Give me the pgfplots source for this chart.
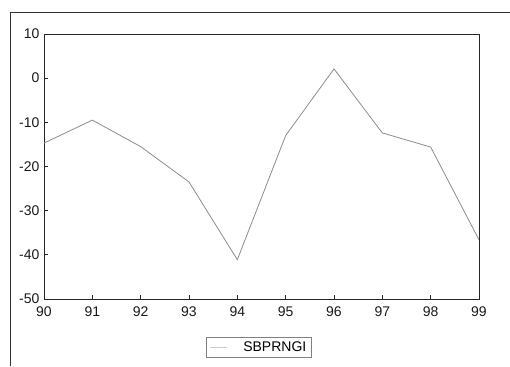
\documentclass[border=0pt]{standalone}
\usepackage{pgfplots}
\pgfplotsset{compat=1.18}
\usepackage{fontspec}
\setmainfont{Liberation Sans}
\begin{document}
\begin{tikzpicture}
\useasboundingbox (-44pt,-67pt) rectangle (466pt,299pt);
\draw[black!80, line width=0.9pt] (-34pt,-67pt) -- (-34pt,287pt) -- (466pt,287pt);
\begin{axis}[
  at={(0pt,0pt)}, anchor=south west,
  scale only axis, width=435pt, height=265pt,
  xmin=90, xmax=99, ymin=-50, ymax=10,
  xtick={90,...,99}, ytick={-50,-40,...,10},
  tick align=inside, xtick pos=bottom, ytick pos=left,
  major tick length=4pt,
  axis line style={black!85, line width=0.8pt},
  tick style={black!85, line width=0.7pt},
  /pgf/number format/assume math mode=true,
  ticklabel style={font=\fontsize{14}{16}\selectfont, text=black!90},
  xticklabel style={yshift=-4pt},
  yticklabel style={xshift=-1pt},
  legend style={at={(0.494,-0.145)}, anchor=north, draw=black!50, line width=0.5pt,
    font=\fontsize{14}{16}\selectfont, inner xsep=3pt, inner ysep=2pt},
  legend cell align=left,
  legend image post style={draw=black!20},
]
\addplot[black!45, line width=0.8pt] coordinates {
(90,-14.7) (91,-9.5) (92,-15.5) (93,-23.5) (94,-41.1) (95,-13.0) (96,2.1) (97,-12.4) (98,-15.6) (99,-36.6)
};
\addlegendentry{\hspace{14pt}SBPRNGI}
\end{axis}
\end{tikzpicture}
\end{document}
